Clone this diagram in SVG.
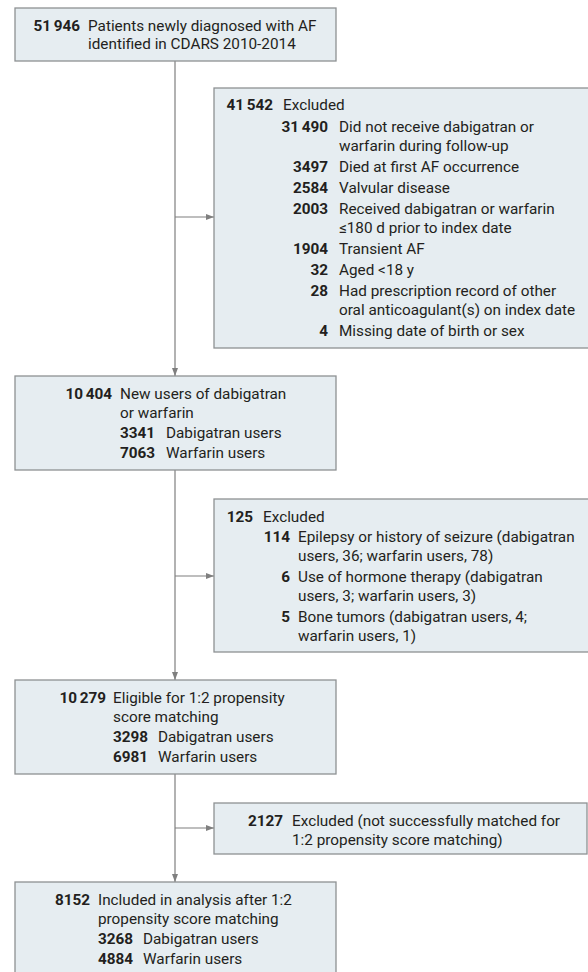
<svg xmlns="http://www.w3.org/2000/svg" width="588" height="972" viewBox="0 0 588 972">
<style>
  .box { fill: #e6edf1; stroke: #8e9193; stroke-width: 1.3; }
  text { font-family: Roboto, "Liberation Sans", sans-serif; font-size: 15.3px; fill: #231f20; }
  .n { font-weight: 700; }
  .e { text-anchor: end; }
  .c { fill: none; stroke: #7f7f7f; stroke-width: 1.2; }
</style>
<defs>
  <marker id="ah" markerWidth="8" markerHeight="6" refX="8" refY="3" orient="auto" markerUnits="userSpaceOnUse">
    <path d="M0,0 L8,3 L0,6 z" fill="#7f7f7f"/>
  </marker>
</defs>

<g id="connectors">
  <line class="c" x1="175" y1="61" x2="175" y2="376" marker-end="url(#ah)"/>
  <line class="c" x1="175" y1="217" x2="214" y2="217" marker-end="url(#ah)"/>
  <line class="c" x1="175" y1="470" x2="175" y2="680" marker-end="url(#ah)"/>
  <line class="c" x1="175" y1="576" x2="214" y2="576" marker-end="url(#ah)"/>
  <line class="c" x1="175" y1="774" x2="175" y2="882" marker-end="url(#ah)"/>
  <line class="c" x1="175" y1="828" x2="214" y2="828" marker-end="url(#ah)"/>
</g>

<g id="n1">
  <rect class="box" x="15" y="8" width="321" height="53"/>
  <text class="n e" x="80" y="31">51<tspan dx="2.5">946</tspan></text>
  <text x="88" y="31">Patients newly diagnosed with AF</text>
  <text x="88" y="49">identified in CDARS 2010-2014</text>
</g>

<g id="n2">
  <rect class="box" x="214" y="88" width="376" height="260"/>
  <text class="n e" x="273" y="110">41<tspan dx="2.5">542</tspan></text>
  <text x="283" y="110">Excluded</text>
  <text class="n e" x="328" y="132">31<tspan dx="2.5">490</tspan></text>
  <text x="339" y="132">Did not receive dabigatran or</text>
  <text x="339" y="151">warfarin during follow-up</text>
  <text class="n e" x="328" y="172">3497</text>
  <text x="339" y="172">Died at first AF occurrence</text>
  <text class="n e" x="328" y="193">2584</text>
  <text x="339" y="193">Valvular disease</text>
  <text class="n e" x="328" y="214">2003</text>
  <text x="339" y="214">Received dabigatran or warfarin</text>
  <text x="339" y="233">≤180 d prior to index date</text>
  <text class="n e" x="328" y="254">1904</text>
  <text x="339" y="254">Transient AF</text>
  <text class="n e" x="328" y="275">32</text>
  <text x="339" y="275">Aged &lt;18 y</text>
  <text class="n e" x="328" y="296">28</text>
  <text x="339" y="296">Had prescription record of other</text>
  <text x="339" y="315">oral anticoagulant(s) on index date</text>
  <text class="n e" x="328" y="336">4</text>
  <text x="339" y="336">Missing date of birth or sex</text>
</g>

<g id="n3">
  <rect class="box" x="15" y="376" width="321" height="94"/>
  <text class="n e" x="112" y="399">10<tspan dx="2.5">404</tspan></text>
  <text x="120" y="399">New users of dabigatran</text>
  <text x="120" y="418">or warfarin</text>
  <text class="n" x="120" y="438">3341</text>
  <text x="166" y="438">Dabigatran users</text>
  <text class="n" x="120" y="458">7063</text>
  <text x="166" y="458">Warfarin users</text>
</g>

<g id="n4">
  <rect class="box" x="214" y="499" width="376" height="153"/>
  <text class="n e" x="253" y="522">125</text>
  <text x="263" y="522">Excluded</text>
  <text class="n e" x="290" y="542">114</text>
  <text x="298" y="542">Epilepsy or history of seizure (dabigatran</text>
  <text x="298" y="561">users, 36; warfarin users, 78)</text>
  <text class="n e" x="290" y="582">6</text>
  <text x="298" y="582">Use of hormone therapy (dabigatran</text>
  <text x="298" y="601">users, 3; warfarin users, 3)</text>
  <text class="n e" x="290" y="622">5</text>
  <text x="298" y="622">Bone tumors (dabigatran users, 4;</text>
  <text x="298" y="641">warfarin users, 1)</text>
</g>

<g id="n5">
  <rect class="box" x="15" y="680" width="321" height="94"/>
  <text class="n e" x="106" y="703">10<tspan dx="2.5">279</tspan></text>
  <text x="113" y="703">Eligible for 1:2 propensity</text>
  <text x="113" y="722">score matching</text>
  <text class="n" x="113" y="742">3298</text>
  <text x="158" y="742">Dabigatran users</text>
  <text class="n" x="113" y="762">6981</text>
  <text x="158" y="762">Warfarin users</text>
</g>

<g id="n6">
  <rect class="box" x="214" y="803" width="373" height="51"/>
  <text class="n e" x="283" y="826">2127</text>
  <text x="292" y="826">Excluded (not successfully matched for</text>
  <text x="292" y="845">1:2 propensity score matching)</text>
</g>

<g id="n7">
  <rect class="box" x="15" y="882" width="321" height="96"/>
  <text class="n e" x="90" y="905">8152</text>
  <text x="98" y="905">Included in analysis after 1:2</text>
  <text x="98" y="924">propensity score matching</text>
  <text class="n" x="98" y="944">3268</text>
  <text x="143" y="944">Dabigatran users</text>
  <text class="n" x="98" y="964">4884</text>
  <text x="143" y="964">Warfarin users</text>
</g>
</svg>
